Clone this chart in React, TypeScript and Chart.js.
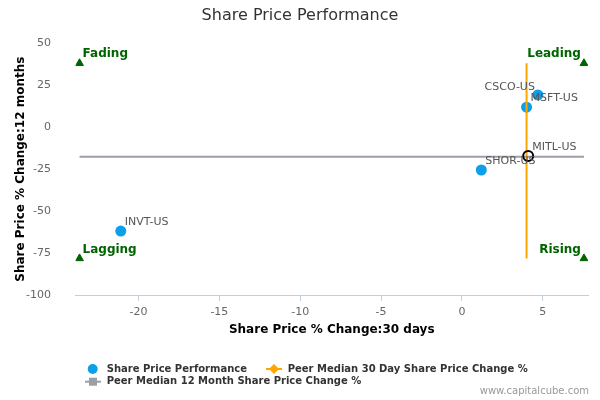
import { useEffect, useRef } from "react"
import { Chart, registerables } from "chart.js"

Chart.register(...registerables)

const FONT = "'DejaVu Sans', Verdana, sans-serif"
const BLUE = "#0d9fea"
const ORANGE = "#ffa500"
const GRAY = "#9a9fa8"
const GREEN = "#006400"

// company points: 30 day % change (x) vs 12 month % change (y)
const companies = ["CSCO-US", "MSFT-US", "MITL-US", "SHOR-US", "INVT-US"]
const change30d = [4.7, 4.0, 4.1, 1.2, -21.1]
const change12m = [19.2, 11.9, -17.2, -25.5, -61.9]
const subject = "MITL-US"

// peer medians
const peerMedian30d = 4.0
const peerMedian12m = -17.6

// quadrant corner markers
const quadrants = ["Fading", "Leading", "Lagging", "Rising"]
const quadrantX = [-23.65, 7.55, -23.65, 7.55]
const quadrantY = [38.1, 38.1, -78.2, -78.2]

const xTicks = [-20, -15, -10, -5, 0, 5]
const yTicks = [50, 25, 0, -25, -50, -75, -100]

// labels that sit left of their point
const leftLabels = new Set(["CSCO-US"])

const overlayPlugin = {
  id: "overlay",
  afterDatasetsDraw(chart: any) {
    const { ctx, scales } = chart
    const x = scales.x
    const y = scales.y
    ctx.save()
    ctx.textBaseline = "middle"

    // company labels
    ctx.font = `11px ${FONT}`
    ctx.fillStyle = "#555"
    companies.forEach((name, i) => {
      const px = x.getPixelForValue(change30d[i])
      const py = y.getPixelForValue(change12m[i])
      if (leftLabels.has(name)) {
        ctx.textAlign = "right"
        ctx.fillText(name, px - 3, py - 8)
      } else {
        ctx.textAlign = "left"
        ctx.fillText(name, px + 4, py - 9)
      }
    })

    // quadrant labels
    ctx.font = `bold 12px ${FONT}`
    ctx.fillStyle = GREEN
    quadrants.forEach((name, i) => {
      const px = x.getPixelForValue(quadrantX[i])
      const py = y.getPixelForValue(quadrantY[i])
      const isRight = quadrantX[i] > 0
      ctx.textAlign = isRight ? "right" : "left"
      ctx.fillText(name, isRight ? px - 3 : px + 3, py - 9)
    })
    ctx.restore()
  },
  afterDraw(chart: any) {
    const { ctx } = chart
    ctx.save()
    ctx.textBaseline = "middle"

    // title
    ctx.font = `16px ${FONT}`
    ctx.fillStyle = "#333"
    ctx.textAlign = "center"
    ctx.fillText("Share Price Performance", 300, 16)

    // legend
    ctx.font = `bold 10px ${FONT}`
    ctx.textAlign = "left"

    ctx.fillStyle = BLUE
    ctx.beginPath()
    ctx.arc(92.7, 369, 5, 0, Math.PI * 2)
    ctx.fill()
    ctx.fillStyle = "#333"
    ctx.fillText("Share Price Performance", 106.7, 369)

    ctx.strokeStyle = ORANGE
    ctx.lineWidth = 2
    ctx.beginPath()
    ctx.moveTo(266, 369)
    ctx.lineTo(282, 369)
    ctx.stroke()
    ctx.fillStyle = ORANGE
    ctx.beginPath()
    ctx.moveTo(274, 364)
    ctx.lineTo(279, 369)
    ctx.lineTo(274, 374)
    ctx.lineTo(269, 369)
    ctx.closePath()
    ctx.fill()
    ctx.fillStyle = "#333"
    ctx.fillText("Peer Median 30 Day Share Price Change %", 287.7, 369)

    ctx.strokeStyle = GRAY
    ctx.beginPath()
    ctx.moveTo(85, 381.7)
    ctx.lineTo(101, 381.7)
    ctx.stroke()
    ctx.fillStyle = GRAY
    ctx.fillRect(89, 377.7, 8, 8)
    ctx.fillStyle = "#333"
    ctx.fillText("Peer Median 12 Month Share Price Change %", 106.7, 381.7)

    // credit
    ctx.font = `10px ${FONT}`
    ctx.fillStyle = "#999"
    ctx.textAlign = "right"
    ctx.fillText("www.capitalcube.com", 589, 391.7)
    ctx.restore()
  },
}

export default function App() {
  const chartRef = useRef<HTMLCanvasElement>(null)
  const chartInstance = useRef<Chart | null>(null)

  useEffect(() => {
    if (!chartRef.current) return
    if (chartInstance.current) chartInstance.current.destroy()

    const peers = companies
      .map((name, i) => ({ name, x: change30d[i], y: change12m[i] }))
      .filter((p) => p.name !== subject)
    const own = companies
      .map((name, i) => ({ name, x: change30d[i], y: change12m[i] }))
      .filter((p) => p.name === subject)

    const yLo = Math.min(...quadrantY)
    const yHi = Math.max(...quadrantY)
    const xLo = Math.min(...quadrantX)
    const xHi = Math.max(...quadrantX)

    const ctx = chartRef.current.getContext("2d")
    if (!ctx) return
    chartInstance.current = new Chart(ctx, {
      type: "scatter",
      data: {
        datasets: [
          {
            label: subject,
            data: own,
            pointRadius: 5,
            pointBackgroundColor: "rgba(0,0,0,0)",
            pointBorderColor: "#000",
            pointBorderWidth: 2,
            order: 0,
          },
          {
            label: "Peer Median 30 Day Share Price Change %",
            data: [
              { x: peerMedian30d, y: yHi },
              { x: peerMedian30d, y: yLo },
            ],
            showLine: true,
            borderColor: ORANGE,
            borderWidth: 2,
            pointRadius: 0,
            order: 1,
          },
          {
            label: "Peer Median 12 Month Share Price Change %",
            data: [
              { x: xLo, y: peerMedian12m },
              { x: xHi, y: peerMedian12m },
            ],
            showLine: true,
            borderColor: GRAY,
            borderWidth: 2,
            pointRadius: 0,
            order: 2,
          },
          {
            label: "Share Price Performance",
            data: peers,
            pointRadius: 5.5,
            pointBackgroundColor: BLUE,
            pointBorderWidth: 0,
            order: 3,
          },
          {
            label: "Quadrants",
            data: quadrants.map((_, i) => ({ x: quadrantX[i], y: quadrantY[i] })),
            pointStyle: "triangle",
            pointRadius: 4.5,
            pointBackgroundColor: GREEN,
            pointBorderColor: GREEN,
            pointBorderWidth: 1,
            order: 4,
          },
        ],
      },
      options: {
        responsive: true,
        maintainAspectRatio: false,
        animation: false,
        events: [],
        layout: { padding: { top: 43.3, right: 12, left: 0, bottom: 0 } },
        plugins: {
          legend: { display: false },
          title: { display: false },
          tooltip: { enabled: false },
        },
        scales: {
          x: {
            type: "linear",
            min: -23.9,
            max: 7.8,
            afterBuildTicks: (scale: any) => {
              scale.ticks = xTicks.map((v) => ({ value: v }))
            },
            afterFit: (scale: any) => {
              scale.height = 105
            },
            grid: {
              display: true,
              drawOnChartArea: false,
              drawTicks: true,
              tickLength: 6,
              color: "#c0d0e0",
            },
            border: { display: true, color: "#c0d0e0" },
            ticks: {
              color: "#666",
              font: { family: FONT, size: 11 },
              padding: 5,
              maxRotation: 0,
            },
            title: {
              display: true,
              text: "Share Price % Change:30 days",
              color: "#000",
              font: { family: FONT, size: 12, weight: "bold" },
              padding: { top: 0, bottom: 63.3 },
            },
          },
          y: {
            type: "linear",
            min: -100,
            max: 50,
            afterBuildTicks: (scale: any) => {
              scale.ticks = yTicks.map((v) => ({ value: v }))
            },
            afterFit: (scale: any) => {
              scale.width = 75.5
            },
            grid: { display: false },
            border: { display: false },
            ticks: {
              color: "#666",
              font: { family: FONT, size: 11 },
              padding: 16.5,
            },
            title: {
              display: true,
              text: "Share Price % Change:12 months",
              color: "#000",
              font: { family: FONT, size: 12, weight: "bold" },
              padding: { top: 13.8, bottom: 0 },
            },
          },
        },
      },
      plugins: [overlayPlugin],
    })

    return () => {
      if (chartInstance.current) {
        chartInstance.current.destroy()
        chartInstance.current = null
      }
    }
  }, [])

  return (
    <div style={{ position: "fixed", left: 0, top: 0, width: 600, height: 400, background: "#fff" }}>
      <canvas ref={chartRef} />
    </div>
  )
}
